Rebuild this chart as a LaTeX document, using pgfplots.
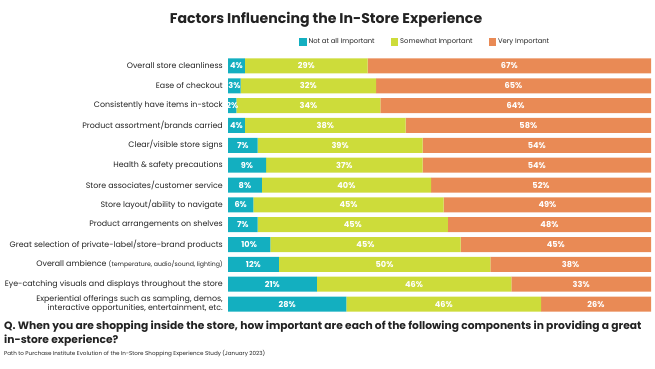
\documentclass[border=0pt]{standalone}
\usepackage{pgfplots}
\pgfplotsset{compat=1.18}
\usepackage{pgfplotstable}
\usepackage{fontspec}
\setmainfont{Poppins}
\definecolor{cteal}{HTML}{13AFC0}
\definecolor{clime}{HTML}{CDDC3A}
\definecolor{corange}{HTML}{E98A55}
\definecolor{ctext}{HTML}{222222}

\pgfplotstableread{
idx a b c
0 4 29 67
1 3 32 65
2 2 34 64
3 4 38 58
4 7 39 54
5 9 37 54
6 8 40 52
7 6 45 49
8 7 45 48
9 10 45 45
10 12 50 38
11 21 46 33
12 28 46 26
}\data

\begin{document}
\begin{tikzpicture}[x=1pt,y=1pt]
\useasboundingbox (0pt,0pt) rectangle (655pt,368pt);
\pgfplotsset{common/.style={
  at={(228pt,54pt)}, anchor=south west,
  width=423pt, height=258pt, scale only axis,
  xmin=0, xmax=100, ymin=-0.5, ymax=12.5, y dir=reverse,
  /pgf/number format/assume math mode=true}}
\begin{axis}[common,
  xbar stacked, bar width=15pt,
  axis line style={draw=none},
  major tick length=0pt,
  xtick=\empty,
  ytick={0,...,12},
  yticklabels={
    {Overall store cleanliness},
    {Ease of checkout},
    {Consistently have items in-stock},
    {Product assortment/brands carried},
    {Clear/visible store signs},
    {Health \& safety precautions},
    {Store associates/customer service},
    {Store layout/ability to navigate},
    {Product arrangements on shelves},
    {Great selection of private-label/store-brand products},
    {Overall ambience {\fontsize{6.2}{7}\selectfont(temperature, audio/sound, lighting)}},
    {Eye-catching visuals and displays throughout the store},
    {Experiential offerings such as sampling, demos,\\interactive opportunities, entertainment, etc.}},
  yticklabel style={font=\fontsize{7.9}{8.8}\selectfont, text=ctext, align=right, inner sep=0pt, xshift=-5pt},
  legend style={at={(0.466,1.025)}, anchor=south, legend columns=3, draw=none,
    font=\fontsize{6.8}{7.5}\selectfont, text=ctext,
    /tikz/every even column/.append style={column sep=14pt}},
  legend image code/.code={\fill[#1] (0pt,-3.8pt) rectangle (7.5pt,3.8pt);},
]
\addplot[fill=cteal, draw=none] table[x=a, y=idx]{\data};
\addplot[fill=clime, draw=none] table[x=b, y=idx]{\data};
\addplot[fill=corange, draw=none] table[x=c, y=idx]{\data};
\legend{Not at all Important, Somewhat Important, Very Important}
\end{axis}
\begin{axis}[common, hide axis,
  nodes near coords={\pgfmathprintnumber{\pgfplotspointmeta}\%},
  nodes near coords align=center,
  every node near coord/.append style={text=white, font=\fontsize{8.2}{9}\selectfont\bfseries, inner sep=0pt},
  point meta=explicit]
\addplot[only marks, mark=none] table[x expr=\thisrow{a}/2, y=idx, meta=a]{\data};
\addplot[only marks, mark=none] table[x expr=\thisrow{a}+\thisrow{b}/2, y=idx, meta=b]{\data};
\addplot[only marks, mark=none] table[x expr=\thisrow{a}+\thisrow{b}+\thisrow{c}/2, y=idx, meta=c]{\data};
\end{axis}
\node[font=\fontsize{14.1}{16}\selectfont\bfseries, text=ctext] at (326pt,348pt) {Factors Influencing the In-Store Experience};
\node[anchor=west, font=\fontsize{10.7}{12}\selectfont\bfseries, text=ctext, inner sep=0pt] at (4pt,41pt) {Q. When you are shopping inside the store, how important are each of the following components in providing a great};
\node[anchor=west, font=\fontsize{10.7}{12}\selectfont\bfseries, text=ctext, inner sep=0pt] at (4pt,27pt) {in-store experience?};
\node[anchor=west, font=\fontsize{5.6}{6.5}\selectfont, text=ctext, inner sep=0pt] at (4pt,14pt) {Path to Purchase Institute Evolution of the In-Store Shopping Experience Study (January 2023)};
\end{tikzpicture}
\end{document}
